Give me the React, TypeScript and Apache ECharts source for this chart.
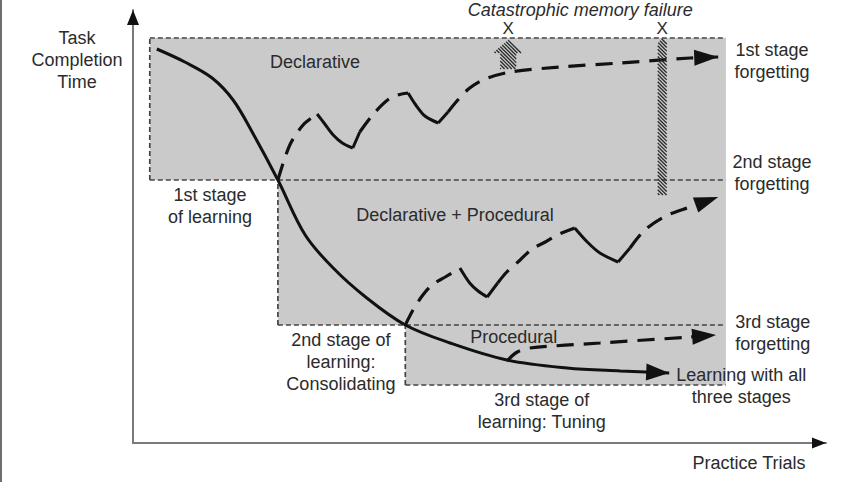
import { useEffect, useRef } from "react";
import * as echarts from "echarts";

// Axis extents (practice trials, task completion time) in arbitrary units
const X_MAX = 99;
const Y_MAX = 86.6;

// Stage regions: each stage's region starts at a trial and spans two time levels
const stageStarts = [2.4, 20.7, 38.9];
const regionEnd = 84.7;
const stageLevels = [81, 52.6, 23.6, 11.6];

// Main learning curve
const learningCurve = [
  [3.4, 78.8], [7.4, 76.2], [11.3, 73], [14.3, 68.6], [17.1, 62], [20.7, 52.6],
  [24.6, 41.6], [28.6, 35], [33.4, 29], [38.9, 23.6], [45.3, 20], [53.4, 16.6],
  [62, 15], [69.6, 14.4], [76.6, 14],
];

// 1st stage forgetting
const forgetting1Dashed = [
  [[20.7, 52.6], [22.4, 59.6], [24.3, 63.6], [26.3, 65.8]],
  [[32.4, 62.2], [34.6, 66.2], [37, 69.2], [39.3, 70]],
  [[45, 66.2], [46.4, 68.6], [48.1, 71], [50.3, 72.8], [53.9, 74.2], [61, 75.2], [69.6, 76], [79.6, 77], [83.6, 77.2]],
];
const forgetting1Solid = [
  [[26.3, 65.8], [27.4, 63.8], [28.6, 61.6], [29.9, 60], [31.4, 59]],
  [[31.4, 59], [32.4, 62.2]],
  [[39.3, 70], [40.4, 67.6], [41.7, 65.4], [43.6, 64]],
  [[43.6, 64], [45, 66.2]],
];

// 2nd stage forgetting
const forgetting2Dashed = [
  [[38.9, 23.6], [40, 26.6], [41.3, 29.4], [42.7, 31.6], [44.6, 33.2], [46.7, 35]],
  [[52.1, 32], [53.4, 34.2], [55.3, 36.6], [57, 38.8], [58.9, 40.2], [60.6, 41.6], [63.1, 43]],
  [[71, 39], [73.1, 42.6], [76.1, 45.4], [79.6, 47.2], [83.6, 49.2]],
];
const forgetting2Solid = [
  [[46.7, 35], [48.1, 32], [49.3, 30.4], [50.6, 29.2]],
  [[50.6, 29.2], [52.1, 32]],
  [[63.1, 43], [64.9, 40.2], [66.7, 38], [69.3, 36.2]],
  [[69.3, 36.2], [71, 39]],
];

// 3rd stage forgetting
const forgetting3Dashed = [
  [[53.4, 16.4], [54.9, 18.2], [56.7, 19], [66.7, 20], [79.6, 21.2], [83.3, 21.6]],
];

// Catastrophic memory failures: trial, and time span [bottom, top]
const failureTrials = [53.6, 75.6];
const failureSpans = [[74.8, 80.6], [49.6, 81]];
const failureMarkTime = 83;

const labelTexts = [
  "Task\nCompletion\nTime",
  "Declarative",
  "1st stage\nof learning",
  "Declarative + Procedural",
  "2nd stage of\nlearning:\nConsolidating",
  "Procedural",
  "3rd stage of\nlearning: Tuning",
  "1st stage\nforgetting",
  "2nd stage\nforgetting",
  "3rd stage\nforgetting",
  "Learning with all\nthree stages",
  "Practice Trials",
  "Catastrophic memory failure",
];
const labelAnchors = [
  [-8, 76.7], [26, 76.2], [11, 47.4], [46, 45.6], [29.7, 16.2], [54.4, 21.2],
  [58.4, 6.4], [91.3, 76.4], [91.3, 54], [91.4, 22], [86.9, 11.4], [88, -4], [63.9, 86.7],
];

const FONT = '"Liberation Sans", Arial, Helvetica, sans-serif';
const TEXT_COLOR = "#2b2b2b";
const INK = "#111";

function clipToConvex(p0: number[], p1: number[], poly: number[][]) {
  let cx = 0, cy = 0;
  poly.forEach((p) => { cx += p[0]; cy += p[1]; });
  cx /= poly.length; cy /= poly.length;
  let t0 = 0, t1 = 1;
  const dx = p1[0] - p0[0], dy = p1[1] - p0[1];
  for (let i = 0; i < poly.length; i++) {
    const a = poly[i], b = poly[(i + 1) % poly.length];
    let nx = -(b[1] - a[1]), ny = b[0] - a[0];
    if (nx * (cx - a[0]) + ny * (cy - a[1]) < 0) { nx = -nx; ny = -ny; }
    const f = nx * (p0[0] - a[0]) + ny * (p0[1] - a[1]);
    const g = nx * dx + ny * dy;
    if (Math.abs(g) < 1e-9) { if (f < 0) return null; continue; }
    const t = -f / g;
    if (g > 0) t0 = Math.max(t0, t); else t1 = Math.min(t1, t);
    if (t0 > t1) return null;
  }
  return [[p0[0] + dx * t0, p0[1] + dy * t0], [p0[0] + dx * t1, p0[1] + dy * t1]];
}

function hatch(poly: number[][], spacing: number) {
  const xs = poly.map((p) => p[0]);
  const cs = poly.map((p) => p[1] - p[0]);
  const minX = Math.min(...xs) - 2, maxX = Math.max(...xs) + 2;
  const minC = Math.floor(Math.min(...cs) / spacing) * spacing;
  const maxC = Math.max(...cs);
  const segs: number[][][] = [];
  for (let c = minC; c <= maxC; c += spacing) {
    const s = clipToConvex([minX, minX + c], [maxX, maxX + c], poly);
    if (s && Math.hypot(s[1][0] - s[0][0], s[1][1] - s[0][1]) > 0.5) segs.push(s);
  }
  return segs;
}

const hatchShapes = [
  { head: 15.5, shaft: 8, headLen: 13 },
  { head: 5, shaft: 4.5, headLen: 6 },
];
const arrowSizes = [
  [23, 8.5], [24, 8], [24, 8], [24, 8], [14, 5.5], [15, 6],
];

function lineSeries(points: number[][], style: any, smooth: number | boolean, z: number) {
  return {
    type: "line",
    data: points,
    showSymbol: false,
    symbol: "none",
    smooth,
    silent: true,
    clip: false,
    z,
    lineStyle: style,
  };
}

export default function App() {
  const ref = useRef<HTMLDivElement>(null);
  useEffect(() => {
    if (!ref.current) return;
    const chart = echarts.init(ref.current, undefined, { renderer: "svg" });

    const regionData = stageStarts.map((s, i) => [s, regionEnd, stageLevels[i + 1], stageLevels[i]]);
    const boundaries: number[][][] = [
      [[stageStarts[0], stageLevels[0]], [regionEnd, stageLevels[0]]],
    ];
    stageStarts.forEach((s, i) => {
      boundaries.push([[s, stageLevels[i + 1]], [s, stageLevels[i]]]);
      boundaries.push([[s, stageLevels[i + 1]], [regionEnd, stageLevels[i + 1]]]);
    });

    const lastTwo = (pts: number[][]) => [...pts[pts.length - 1], ...pts[pts.length - 2]];
    const arrowData = [
      lastTwo(learningCurve),
      lastTwo(forgetting1Dashed[forgetting1Dashed.length - 1]),
      lastTwo(forgetting2Dashed[forgetting2Dashed.length - 1]),
      lastTwo(forgetting3Dashed[forgetting3Dashed.length - 1]),
      [X_MAX, 0, X_MAX - 2, 0],
      [0, Y_MAX, 0, Y_MAX - 2],
    ];

    const thinDash = { color: "#444", width: 1.7, type: [5, 3] };
    const thickDash = { color: INK, width: 3.2, type: [17, 10] };
    const solid = { color: INK, width: 3 };

    const series: any[] = [
      {
        type: "custom",
        silent: true,
        z: 1,
        encode: { x: [0, 1], y: [2, 3] },
        data: regionData,
        renderItem: (params: any, api: any) => {
          const p0 = api.coord([api.value(0), api.value(3)]);
          const p1 = api.coord([api.value(1), api.value(2)]);
          return {
            type: "rect",
            shape: { x: p0[0], y: p0[1], width: p1[0] - p0[0], height: p1[1] - p0[1] },
            style: { fill: "#cacaca" },
          };
        },
      },
      ...boundaries.map((b) => lineSeries(b, thinDash, false, 2)),
      lineSeries(learningCurve, solid, 0.35, 3),
      ...[...forgetting1Dashed, ...forgetting2Dashed, ...forgetting3Dashed].map((p) =>
        lineSeries(p, thickDash, 0.3, 3)
      ),
      ...[...forgetting1Solid, ...forgetting2Solid].map((p) => lineSeries(p, solid, 0.3, 3)),
      {
        type: "custom",
        silent: true,
        z: 4,
        encode: { x: 0, y: [1, 2] },
        data: failureTrials.map((t, i) => [t, failureSpans[i][0], failureSpans[i][1]]),
        renderItem: (params: any, api: any) => {
          const b = api.coord([api.value(0), api.value(1)]);
          const t = api.coord([api.value(0), api.value(2)]);
          const m = api.coord([api.value(0), failureMarkTime]);
          const { head, shaft, headLen } = hatchShapes[params.dataIndex];
          const cx = b[0], yb = b[1], yt = t[1], yh = yt + headLen;
          const pieces = [
            [[cx, yt], [cx + head, yh], [cx - head, yh]],
            [[cx - shaft, yh], [cx + shaft, yh], [cx + shaft, yb], [cx - shaft, yb]],
          ];
          const children: any[] = [];
          pieces.forEach((poly) =>
            hatch(poly, 3.6).forEach((s) =>
              children.push({
                type: "line",
                shape: { x1: s[0][0], y1: s[0][1], x2: s[1][0], y2: s[1][1] },
                style: { stroke: "#2a2a2a", lineWidth: 1.3 },
              })
            )
          );
          children.push({
            type: "text",
            x: m[0],
            y: m[1],
            style: {
              text: "X", fill: TEXT_COLOR, fontSize: 17, fontFamily: FONT,
              align: "center", verticalAlign: "middle", lineHeight: 15,
            },
          });
          return { type: "group", children };
        },
      },
      {
        type: "custom",
        silent: true,
        z: 5,
        encode: { x: [0, 2], y: [1, 3] },
        data: arrowData,
        renderItem: (params: any, api: any) => {
          const tip = api.coord([api.value(0), api.value(1)]);
          const from = api.coord([api.value(2), api.value(3)]);
          const [L, W] = arrowSizes[params.dataIndex];
          let dx = tip[0] - from[0], dy = tip[1] - from[1];
          const len = Math.hypot(dx, dy) || 1;
          dx /= len; dy /= len;
          const bx = tip[0] - dx * L, by = tip[1] - dy * L;
          return {
            type: "polygon",
            shape: { points: [tip, [bx - dy * W, by + dx * W], [bx + dy * W, by - dx * W]] },
            style: { fill: INK },
          };
        },
      },
      {
        type: "custom",
        silent: true,
        z: 6,
        encode: { x: 0, y: 1 },
        data: labelAnchors,
        renderItem: (params: any, api: any) => {
          const p = api.coord([api.value(0), api.value(1)]);
          const text = labelTexts[params.dataIndex];
          const italic = text.startsWith("Catastrophic");
          return {
            type: "text",
            x: p[0],
            y: p[1],
            style: {
              text,
              fill: TEXT_COLOR,
              fontSize: 18,
              fontFamily: FONT,
              fontStyle: italic ? "italic" : "normal",
              align: "center",
              verticalAlign: "middle",
              lineHeight: italic ? 16 : 22,
            },
          };
        },
      },
    ];

    chart.setOption({
      animation: false,
      backgroundColor: "#ffffff",
      grid: { left: 133, right: 30, top: 10, bottom: 39 },
      xAxis: {
        type: "value", min: 0, max: X_MAX,
        axisLine: { show: true, onZero: false, lineStyle: { color: "#7a7a7a", width: 2 } },
        axisTick: { show: false }, axisLabel: { show: false }, splitLine: { show: false },
      },
      yAxis: {
        type: "value", min: 0, max: Y_MAX,
        axisLine: { show: true, onZero: false, lineStyle: { color: "#7a7a7a", width: 2 } },
        axisTick: { show: false }, axisLabel: { show: false }, splitLine: { show: false },
      },
      graphic: [
        { type: "line", shape: { x1: 1, y1: 0, x2: 1, y2: 482 }, style: { stroke: "#6e6e6e", lineWidth: 2 } },
      ],
      series,
    });
    return () => chart.dispose();
  }, []);
  return (
    <div
      ref={ref}
      style={{ position: "absolute", left: 0, top: 0, width: 856, height: 482 }}
    />
  );
}
